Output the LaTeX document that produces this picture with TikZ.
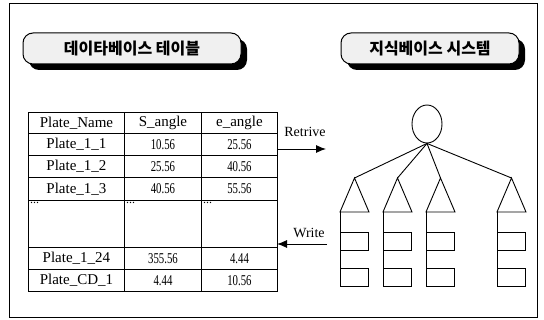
\documentclass[tikz,border=0pt]{standalone}
\usepackage{fontspec}
\usepackage{graphicx}
\setmainfont{Liberation Serif}
\newfontfamily\krfont{Noto Sans CJK KR}
\newcommand{\numtxt}[1]{\scalebox{0.72}[1]{#1}}
\usetikzlibrary{shapes.geometric,shadows,arrows.meta}
\begin{document}
\begin{tikzpicture}[x=1pt,y=-1pt,
  cell/.style={draw, line width=0.9pt, anchor=north west, inner sep=0pt,
    font=\fontsize{15}{17}\selectfont},
  titlebox/.style={draw, line width=1pt, rounded corners=10pt, fill=gray!12,
    minimum height=31pt, inner sep=0pt,
    drop shadow={shadow xshift=6pt, shadow yshift=-6pt, fill=black, opacity=1},
    font=\krfont\bfseries\fontsize{16}{18}\selectfont},
  tree/.style={line width=0.9pt},
  leaf/.style={draw, line width=0.9pt, minimum width=28pt, minimum height=18pt,
    inner sep=0pt, anchor=north west},
  lbl/.style={font=\fontsize{14}{16}\selectfont, inner sep=1pt},
  arr/.style={line width=0.9pt, -{Latex[length=10pt,width=8pt]}}]
\useasboundingbox (0,0) rectangle (544,320);
\fill[white] (0,0) rectangle (544,320);
\draw[line width=1pt] (9,4) rectangle (537,318);

% titles
\node[titlebox, minimum width=218pt] (t1) at (132,48.5) {데이타베이스 테이블};
\node[titlebox, minimum width=178pt] (t2) at (430,48.5) {지식베이스 시스템};

% table
\def\wa{96pt}\def\wb{77pt}\def\wc{76pt}
\foreach \r/\y/\h/\ta/\tb/\tc in {
  0/112/21/Plate\_Name/S\_angle/e\_angle,
  1/133/22/Plate\_1\_1/\numtxt{10.56}/\numtxt{25.56},
  2/155/22/Plate\_1\_2/\numtxt{25.56}/\numtxt{40.56},
  3/177/23/Plate\_1\_3/\numtxt{40.56}/\numtxt{55.56},
  5/247/22/Plate\_1\_24/\numtxt{355.56}/\numtxt{4.44},
  6/269/22/Plate\_CD\_1/\numtxt{4.44}/\numtxt{10.56}} {
  \node[cell, minimum width=\wa, minimum height=\h pt] (a\r) at (28,\y) {\ta};
  \node[cell, minimum width=\wb, minimum height=\h pt] (b\r) at (124,\y) {\tb};
  \node[cell, minimum width=\wc, minimum height=\h pt] (c\r) at (201,\y) {\tc};
}
\node[cell, minimum width=\wa, minimum height=47pt,
  label={[anchor=north west, inner sep=2pt, font=\fontsize{12}{14}\selectfont]north west:...}] (a4) at (28,200) {};
\node[cell, minimum width=\wb, minimum height=47pt,
  label={[anchor=north west, inner sep=2pt, font=\fontsize{12}{14}\selectfont]north west:...}] (b4) at (124,200) {};
\node[cell, minimum width=\wc, minimum height=47pt,
  label={[anchor=north west, inner sep=2pt, font=\fontsize{12}{14}\selectfont]north west:...}] (c4) at (201,200) {};

% arrows
\coordinate (rs) at (277,149);
\coordinate (re) at (326,149);
\draw[arr] (rs) -- (re);
\node[lbl] (retrive) at (305,132) {Retrive};
\coordinate (ws) at (327,244);
\coordinate (we) at (277,244);
\draw[arr] (ws) -- (we);
\node[lbl] (write) at (309,233) {Write};

% knowledge tree
\node[draw, ellipse, line width=0.9pt, minimum width=30pt, minimum height=38pt,
  inner sep=0pt] (root) at (427,124) {};
\foreach \i/\ax in {1/354.5,2/397.5,3/440.5,4/511.5} {
  \coordinate (apex\i) at (\ax,178);
  \coordinate (bl\i) at (\ax-14.5,212);
  \coordinate (br\i) at (\ax+14.5,212);
  \coordinate (bot\i) at (\ax-14.5,286);
  \draw[tree] (root.south) -- (apex\i);
  \draw[tree] (bl\i) -- (apex\i) -- (br\i) -- cycle;
  \draw[tree] (bl\i) -- (bot\i);
  \node[leaf] (la\i) at (\ax-14.5,232) {};
  \node[leaf] (lb\i) at (\ax-14.5,268) {};
}
\end{tikzpicture}
\end{document}
